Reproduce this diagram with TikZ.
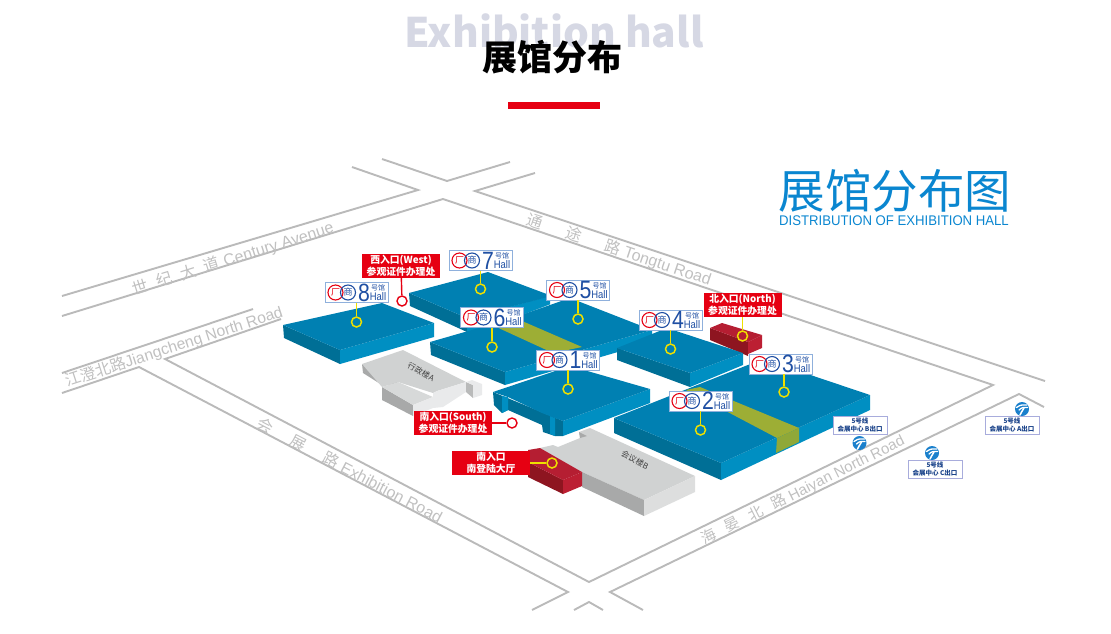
\documentclass[tikz,border=0pt]{standalone}
\usepackage{fontspec}
\usepackage{graphicx}
\setmainfont{Liberation Sans}
\newfontfamily\cjk{Noto Sans CJK SC}
\definecolor{roadc}{HTML}{BABABA}
\definecolor{roadt}{HTML}{C0C0C0}
\definecolor{htop}{HTML}{0080B2}
\definecolor{hdark}{HTML}{006F96}
\definecolor{hlight}{HTML}{008FC2}
\definecolor{gtop}{HTML}{9DAE35}
\definecolor{gside}{HTML}{8FA838}
\definecolor{rtop}{HTML}{B51E32}
\definecolor{rdark}{HTML}{8E1520}
\definecolor{rlight}{HTML}{BC1F33}
\definecolor{bgtop}{HTML}{D0D2D2}
\definecolor{bgdark}{HTML}{A8A9A9}
\definecolor{bglight}{HTML}{DDDEDE}
\definecolor{bgpale}{HTML}{E9EAEB}
\definecolor{brand}{HTML}{E60012}
\definecolor{leady}{HTML}{EEE000}
\definecolor{badgeb}{HTML}{1F4FA3}
\definecolor{badgeline}{HTML}{8FB0DC}
\definecolor{metroline}{HTML}{A8ACDC}
\definecolor{mapblue}{HTML}{0A86D0}
\definecolor{metrob}{HTML}{1A80CC}
\definecolor{headgrey}{HTML}{D6D8E4}
\tikzset{
  road/.style={draw=roadc,line width=1.9pt,line join=miter},
  roadtext/.style={text=roadt,font=\fontsize{16}{16}\selectfont,inner sep=0pt},
  badge/.style={draw=badgeline,line width=.7pt,fill=white,minimum width=63pt,minimum height=20pt,inner sep=0pt},
  logor/.style={circle,draw=brand,line width=1.1pt,minimum size=15pt,inner sep=0pt,text=brand,font=\cjk\fontsize{9}{9}\selectfont},
  logob/.style={circle,draw=badgeb,line width=1.1pt,minimum size=15pt,inner sep=0pt,text=badgeb,font=\cjk\fontsize{9}{9}\selectfont},
  bignum/.style={text=badgeb,font=\fontsize{25}{25}\selectfont,inner sep=0pt},
  smallcn/.style={text=badgeb,font=\cjk\fontsize{7}{7}\selectfont,inner sep=0pt},
  smallen/.style={text=badgeb,font=\fontsize{11}{11}\selectfont,inner sep=0pt},
  leadline/.style={draw=leady,line width=1.4pt},
  leadred/.style={draw=brand,line width=1.4pt},
  dot/.style={circle,draw=leady,line width=1.5pt,minimum size=10pt,inner sep=0pt},
  dotred/.style={circle,draw=brand,line width=1.4pt,minimum size=10pt,inner sep=0pt,fill=white},
  redtag/.style={fill=brand,text=white,minimum width=78pt,minimum height=24pt,inner sep=0pt,align=center,font=\cjk\bfseries\fontsize{9.8}{11.5}\selectfont},
  metrotag/.style={draw=metroline,line width=.8pt,fill=white,minimum width=54pt,minimum height=18pt,inner sep=0pt,align=center,text=badgeb!85!black,font=\cjk\bfseries\fontsize{6.5}{7.8}\selectfont},
  metrodot/.style={circle,fill=metrob,minimum size=14pt,inner sep=0pt},
  bldtext/.style={text=black!75,font=\cjk\fontsize{8}{8}\selectfont,rotate=-28,inner sep=0pt}
}
\newcommand{\hallbadge}[4]{%
  \node[badge] (L#1) at (#2,#3) {};
  \node[logor] (L#1r) at (#2-21,#3) {厂};
  \node[logob] (L#1b) at (#2-8.5,#3) {商};
  \node[bignum] (L#1n) at (#2+7.5,#3) {\scalebox{.85}[1]{#4}};
  \node[smallcn] (L#1c) at (#2+21.5,#3-4.5) {号馆};
  \node[smallen] (L#1h) at (#2+21.5,#3+4.5) {\scalebox{.86}[1]{Hall}};
}
\newcommand{\metroicon}[3]{%
  \node[metrodot] (#1) at (#2,#3) {};
  \draw[white,line width=1.3pt,line cap=round] (#2-5.5,#3-1.5) .. controls (#2-1,#3-5) and (#2+2,#3-4) .. (#2+5,#3-4);
  \draw[white,line width=1.3pt,line cap=round] (#2-3,#3+1) .. controls (#2,#3-2) and (#2+3,#3-2) .. (#2+5.5,#3-1.5);
  \draw[white,line width=1.5pt,line cap=round] (#2+2,#3-1) .. controls (#2,#3+2) and (#2-1,#3+4) .. (#2-2,#3+6);
}
\begin{document}
\begin{tikzpicture}[x=1pt,y=-1pt]
\useasboundingbox (0,0) rectangle (1111,633);
% heading
\node[inner sep=0pt,text=headgrey,font=\cjk\bfseries\fontsize{40.7}{40.7}\selectfont] (en) at (554,31) {Exhibition hall};
\node[inner sep=0pt,font=\cjk\bfseries\fontsize{35}{35}\selectfont] (cn) at (552,57) {展馆分布};
\fill[brand] (508,102) rectangle (600,109);
% roads
\draw[road] (62,296) -- (418,190) -- (352,167);
\draw[road] (382,159) -- (447,181) -- (510,162);
\draw[road] (535,173) -- (475,191) -- (1045,381);
\draw[road] (62,316) -- (443,199) -- (993,385) -- (589,582) -- (165,359) -- (281,319);
\draw[road] (62,373) -- (253,309);
\draw[road] (62,393) -- (139,367) -- (568,592) -- (532,610);
\draw[road] (574,610) -- (589,602) -- (603,610);
\draw[road] (643,610) -- (610,592) -- (1019,394) -- (1044,407);
% road names
\node[roadtext,rotate=17.5] (r1) at (233,259) {{\cjk 世\hspace{9pt}纪\hspace{9pt}大\hspace{9pt}道} Century Avenue};
\node[roadtext,rotate=18,font=\fontsize{15.7}{15.7}\selectfont] (r2) at (174,347) {{\cjk 江澄北路}Jiangcheng North Road};
\node[roadtext,rotate=-18.5] (r3) at (619,250) {{\cjk 通\hspace{25pt}途\hspace{25pt}路} Tongtu Road};
\node[roadtext,rotate=-27.7] (r4) at (350,470) {{\cjk 会\hspace{21pt}展\hspace{21pt}路} Exhibition Road};
\node[roadtext,rotate=26.5,font=\fontsize{15}{15}\selectfont] (r5) at (803,490) {{\cjk 海\hspace{11pt}晏\hspace{11pt}北\hspace{11pt}路} Haiyan North Road};
% hall 7
\fill[hdark] (409,293) -- (467,318) -- (467,332) -- (410,306) -- cycle;
\fill[hlight] (467,318) -- (550,296) -- (550,308) -- (467,332) -- cycle;
\fill[htop] (409,293) -- (488,272) -- (552,296) -- (467,318) -- cycle;
% halls 5 and 6
\fill[white] (520,316) -- (572,296) -- (575,300) -- (525,320) -- cycle;
\fill[hdark] (430,342) -- (505,372) -- (505,385) -- (431,355) -- cycle;
\fill[hlight] (505,372) -- (652,330) -- (652,342) -- (505,385) -- cycle;
\fill[htop] (430,342) -- (496,323) -- (527,313) -- (570,298) -- (652,330) -- (505,372) -- cycle;
\fill[gtop] (492,325) -- (522,321) -- (582,347) -- (553,353) -- cycle;
% north entrance block
\fill[rdark] (710,328) -- (710,340) -- (748,356) -- (748,342) -- cycle;
\fill[rlight] (748,342) -- (762,335) -- (762,348) -- (748,354) -- cycle;
\fill[rtop] (710,328) -- (722,323) -- (762,335) -- (748,342) -- cycle;
% hall 4
\fill[hdark] (617,348) -- (690,373) -- (690,387) -- (617,360) -- cycle;
\fill[hlight] (690,373) -- (743,353) -- (743,365) -- (690,387) -- cycle;
\fill[htop] (617,348) -- (667,328) -- (743,353) -- (690,373) -- cycle;
% building A
\fill[bgdark] (362,364) -- (363,373) -- (382,385) -- (400,384) -- cycle;
\fill[bgtop] (362,364) -- (403,350) -- (466,382) -- (437,391) -- (433,393) -- (398,382) -- (382,387) -- cycle;
\fill[bgdark] (382,387) -- (382,400) -- (413,416) -- (413,405) -- cycle;
\fill[bgtop!85!white] (382,387) -- (398,382) -- (433,397) -- (413,405) -- cycle;
\fill[bgpale] (413,405) -- (433,397) -- (433,393) -- (437,391) -- (466,382) -- (466,392) -- (443,407) -- (433,408) -- (413,416) -- cycle;
\fill[bgdark!80!white] (466,382) -- (473,385) -- (473,398) -- (466,392) -- cycle;
\fill[bgpale] (466,382) -- (472,380) -- (482,384) -- (482,395) -- (473,398) -- (473,385) -- cycle;
\node[bldtext] (ba) at (421,372) {行政楼A};
% hall 8
\fill[hdark] (283,325) -- (340,350) -- (340,364) -- (284,338) -- cycle;
\fill[hlight] (340,350) -- (434,323) -- (434,337) -- (340,364) -- cycle;
\fill[htop] (283,325) -- (382,303) -- (434,323) -- (340,350) -- cycle;
% building B
\fill[bgtop] (540,448) -- (553,445) -- (558,447) -- (580,438) -- (579,432) -- (590,428) -- (695,476) -- (644,500) -- (582,472) -- cycle;
\fill[bgdark] (579,432) -- (587,436) -- (580,438) -- cycle;
\fill[bgdark] (582,472) -- (644,500) -- (644,516) -- (582,487) -- cycle;
\fill[bglight] (644,500) -- (695,476) -- (695,492) -- (644,516) -- cycle;
\node[bldtext] (bb) at (635,460) {会议楼B};
% south entrance block
\fill[rdark] (528,462) -- (563,480) -- (563,494) -- (528,477) -- cycle;
\fill[rlight] (563,480) -- (582,472) -- (582,486) -- (563,494) -- cycle;
\fill[rtop] (528,450) -- (540,448) -- (582,472) -- (563,480) -- (528,462) -- cycle;
% hall 1
\fill[hdark] (493,392) -- (494,405) -- (502,413) -- (508,410) -- (542,425) -- (543,432) -- (555,436) -- (563,436) -- (563,421) -- cycle;
\fill[hlight] (563,421) -- (650,389) -- (650,403) -- (563,436) -- cycle;
\fill[hlight] (502,396) -- (508,397) -- (508,410) -- (502,413) -- cycle;
\fill[hlight] (550,416) -- (555,418) -- (555,436) -- (550,434) -- cycle;
\fill[htop] (493,392) -- (570,366) -- (650,389) -- (563,421) -- (555,418) -- (542,413) -- (508,397) -- (502,395) -- cycle;
% halls 2 and 3
\fill[hdark] (614,418) -- (721,463) -- (721,480) -- (614,433) -- cycle;
\fill[hlight] (721,463) -- (870,395) -- (870,410) -- (721,480) -- cycle;
\fill[htop] (614,418) -- (763,359) -- (870,395) -- (721,463) -- cycle;
\fill[gtop] (686,390) -- (700,387) -- (799,428) -- (777,438) -- cycle;
\fill[gside] (777,438) -- (799,428) -- (799,442) -- (776,453) -- cycle;
% hall badges
\hallbadge{8}{356.5}{292.5}{8}
\hallbadge{7}{480.5}{260.5}{7}
\hallbadge{6}{492}{317.5}{6}
\hallbadge{5}{578}{290}{5}
\hallbadge{4}{670.5}{320}{4}
\hallbadge{1}{568}{360}{1}
\hallbadge{3}{780.5}{364}{3}
\hallbadge{2}{700.5}{401}{2}
% dots and leaders
\node[dot] (c8) at (356.5,322) {};
\node[dot] (c7) at (480.5,289) {};
\node[dot] (c6) at (492,347) {};
\node[dot] (c5) at (578,319) {};
\node[dot] (c4) at (670.5,349) {};
\node[dot] (c1) at (568,389) {};
\node[dot] (c3) at (784,392) {};
\node[dot] (c2) at (700.5,430) {};
\foreach \n in {8,7,6,5,4,1,3,2} {\draw[leadline] (c\n |- L\n.south) -- (c\n);}
% entrance tags
\node[redtag] (tw) at (401,266) {西入口(West)\\参观证件办理处};
\node[dotred] (dw) at (402,301) {};
\draw[leadred] (tw) -- (dw);
\node[redtag] (tn) at (742.5,305) {北入口(North)\\参观证件办理处};
\node[dot] (dn) at (742.5,336) {};
\draw[leadline] (tn) -- (dn);
\node[redtag] (ts) at (453,423) {南入口(South)\\参观证件办理处};
\node[dotred] (ds) at (512,423) {};
\draw[leadred] (ts) -- (ds);
\node[redtag] (th) at (491,463) {南入口\\南登陆大厅};
\node[dot] (dh) at (552,463) {};
\draw[leadline] (th) -- (dh);
% metro
\node[metrotag] (mb) at (860,425) {5号线\\会展中心 B出口};
\metroicon{ib}{859.5}{443}
\node[metrotag] (mc) at (935,469) {5号线\\会展中心 C出口};
\metroicon{ic}{932}{453}
\node[metrotag] (ma) at (1012,425) {5号线\\会展中心 A出口};
\metroicon{ia}{1022}{409}
% map title
\node[inner sep=0pt,text=mapblue,font=\cjk\fontsize{46.5}{46.5}\selectfont] (mt) at (895,191) {展馆分布图};
\node[inner sep=0pt,text=mapblue,font=\fontsize{14}{14}\selectfont] (ms) at (894,221) {\scalebox{.94}[1]{DISTRIBUTION OF EXHIBITION HALL}};
\end{tikzpicture}
\end{document}
